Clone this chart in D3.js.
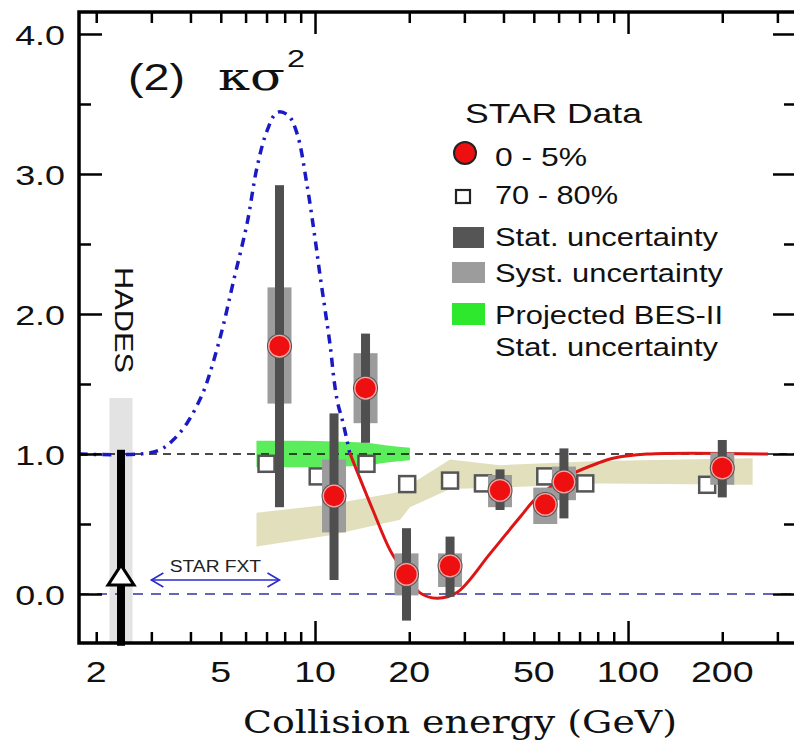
<!DOCTYPE html>
<html>
<head>
<meta charset="utf-8">
<script src="https://d3js.org/d3.v7.min.js"></script>
<style>
  body { margin: 0; background: #fff; }
  text { font-family: "Liberation Sans", Arial, sans-serif; }
</style>
</head>
<body>
<div id="chart"></div>
<script>
// STAR 0-5% central data
var energy = [7.7, 11.5, 14.5, 19.6, 27, 39, 54.4, 62.4, 200];
var kappa  = [1.77, 0.70, 1.47, 0.14, 0.20, 0.74, 0.64, 0.80, 0.90];
var statLo = [0.62, 0.10, 1.08, -0.19, -0.02, 0.60, 0.56, 0.54, 0.69];
var statHi = [2.92, 1.29, 1.86, 0.47, 0.41, 0.89, 0.72, 1.04, 1.10];
var systLo = [1.36, 0.44, 1.22, -0.01, 0.05, 0.62, 0.50, 0.67, 0.78];
var systHi = [2.19, 0.96, 1.72, 0.29, 0.29, 0.85, 0.76, 0.91, 1.01];

// STAR 70-80% peripheral
var perE = [7.0, 10.2, 14.6, 19.7, 27, 34.4, 54.4, 73, 179];
var perK = [0.93, 0.84, 0.93, 0.785, 0.81, 0.79, 0.84, 0.79, 0.78];

// blue dash-dot model curve
var blueE = [1.76, 2.76, 3.2, 3.52, 3.9, 4.39, 4.72, 5.08, 5.47, 6.07, 6.53, 7.03, 7.57, 8.2, 8.76, 9.43, 10.0, 10.4, 10.8, 11.2, 11.5, 11.8, 12.3, 12.9];
var blueK = [1.0, 1.0, 1.03, 1.1, 1.22, 1.44, 1.65, 1.91, 2.22, 2.65, 3.05, 3.31, 3.44, 3.42, 3.29, 2.92, 2.54, 2.26, 2.01, 1.76, 1.53, 1.37, 1.22, 1.01];

// red model curve
var redE = [12.9, 15.3, 17.4, 19.1, 21.6, 24.5, 28.4, 36.3, 45.2, 51.2, 65.3, 81.4, 89.6, 115, 280];
var redK = [1.01, 0.60, 0.31, 0.17, 0.01, -0.03, 0.01, 0.29, 0.55, 0.69, 0.85, 0.94, 0.97, 1.0, 1.0];

// projected BES-II band (around 1.0)
var greenE = [6.5, 9, 11.5, 14.5, 17, 20.1];
var greenHalf = [0.095, 0.095, 0.09, 0.08, 0.06, 0.045];

// beige band
var beigeE  = [6.5, 11.2, 18.7, 20.1, 27, 39, 81, 250];
var beigeLo = [0.34, 0.42, 0.53, 0.62, 0.75, 0.76, 0.79, 0.78];
var beigeHi = [0.58, 0.64, 0.73, 0.78, 0.96, 0.92, 0.95, 0.97];

// HADES
var hadesE = 2.4, hadesK = 0.135, hadesHi = 1.03, hadesBand = 1.40;
var fxtRange = [3.0, 7.7];

var xMinor = [2, 3, 4, 5, 6, 7, 8, 9, 20, 30, 40, 50, 60, 70, 80, 90, 200, 300];
var xMajor = [10, 100];
var xLabels = [2, 5, 10, 20, 50, 100, 200];
var yMajor = [0, 1, 2, 3, 4];
var yMinor = [0.5, 1.5, 2.5, 3.5];

var W = 794, H = 746;
var pL = 79, pR = 796, pT = 12, pB = 643;

var svg = d3.select("#chart").append("svg").attr("width", W).attr("height", H);

var x = d3.scaleLog().domain([1.762, 344]).range([pL, pR]);
var y = d3.scaleLinear().domain([-0.35, 4.157]).range([pB, pT]);

function stretch(sel, k) {
  sel.each(function () {
    var w = this.getComputedTextLength();
    d3.select(this).attr("textLength", w * k).attr("lengthAdjust", "spacingAndGlyphs");
  });
}

// beige band
var beige = beigeE.map(function (e, i) { return [e, beigeLo[i], beigeHi[i]]; });
svg.append("path").datum(beige)
  .attr("fill", "#e2dfbd")
  .attr("d", d3.area().x(function (d) { return x(d[0]); })
    .y0(function (d) { return y(d[1]); }).y1(function (d) { return y(d[2]); }));

// green band
var green = greenE.map(function (e, i) { return [e, 1 - greenHalf[i], 1 + greenHalf[i]]; });
svg.append("path").datum(green)
  .attr("fill", "#5ced5c")
  .attr("d", d3.area().curve(d3.curveMonotoneX).x(function (d) { return x(d[0]); })
    .y0(function (d) { return y(d[1]); }).y1(function (d) { return y(d[2]); }));

// HADES grey band
svg.append("rect")
  .attr("x", x(hadesE) - 11.5).attr("width", 23)
  .attr("y", y(hadesBand)).attr("height", y(-0.35) - y(hadesBand))
  .attr("fill", "#e3e3e3");

// reference lines
svg.append("line").attr("x1", pL).attr("x2", pR).attr("y1", y(1)).attr("y2", y(1))
  .attr("stroke", "#111").attr("stroke-width", 1.6).attr("stroke-dasharray", "8,6");
svg.append("line").attr("x1", pL).attr("x2", pR).attr("y1", y(0)).attr("y2", y(0))
  .attr("stroke", "#34349c").attr("stroke-width", 1.6).attr("stroke-dasharray", "10,8");

// blue model
svg.append("path").datum(blueE.map(function (e, i) { return [e, blueK[i]]; }))
  .attr("fill", "none").attr("stroke", "#1a1ac4").attr("stroke-width", 3.5)
  .attr("stroke-dasharray", "9,6,2.5,6")
  .attr("d", d3.line().curve(d3.curveCatmullRom).x(function (d) { return x(d[0]); }).y(function (d) { return y(d[1]); }));

// red model
svg.append("path").datum(redE.map(function (e, i) { return [e, redK[i]]; }))
  .attr("fill", "none").attr("stroke", "#dd1515").attr("stroke-width", 3)
  .attr("d", d3.line().curve(d3.curveCatmullRom).x(function (d) { return x(d[0]); }).y(function (d) { return y(d[1]); }));

// HADES bar + triangle
svg.append("rect")
  .attr("x", x(hadesE) - 4).attr("width", 8)
  .attr("y", y(hadesHi)).attr("height", y(-0.37) - y(hadesHi))
  .attr("fill", "#000");
svg.append("path")
  .attr("transform", "translate(" + x(hadesE) + "," + y(hadesK) + ")")
  .attr("d", "M0,-10L13,10L-13,10Z")
  .attr("fill", "#fff").attr("stroke", "#000").attr("stroke-width", 3);

// STAR FXT arrow
var fy = y(0.1);
svg.append("line").attr("x1", x(fxtRange[0])).attr("x2", x(fxtRange[1])).attr("y1", fy).attr("y2", fy)
  .attr("stroke", "#2a2ad0").attr("stroke-width", 1.6);
svg.append("path")
  .attr("d", "M" + (x(fxtRange[0]) + 12) + "," + (fy - 7) + "L" + x(fxtRange[0]) + "," + fy + "L" + (x(fxtRange[0]) + 12) + "," + (fy + 7) +
    "M" + (x(fxtRange[1]) - 12) + "," + (fy - 7) + "L" + x(fxtRange[1]) + "," + fy + "L" + (x(fxtRange[1]) - 12) + "," + (fy + 7))
  .attr("fill", "none").attr("stroke", "#2a2ad0").attr("stroke-width", 1.6);
svg.append("text").attr("x", (x(fxtRange[0]) + x(fxtRange[1])) / 2).attr("y", fy - 8)
  .attr("text-anchor", "middle").attr("font-size", 16).attr("fill", "#222")
  .text("STAR FXT").call(stretch, 1.2);

// peripheral squares
svg.selectAll(".per").data(perE).enter().append("rect")
  .attr("x", function (d) { return x(d) - 8; })
  .attr("y", function (d, i) { return y(perK[i]) - 8; })
  .attr("width", 16).attr("height", 16)
  .attr("fill", "#fff").attr("stroke", "#555").attr("stroke-width", 2.5);

// systematic boxes
svg.selectAll(".syst").data(energy).enter().append("rect")
  .attr("x", function (d) { return x(d) - 12; }).attr("width", 24)
  .attr("y", function (d, i) { return y(systHi[i]); })
  .attr("height", function (d, i) { return y(systLo[i]) - y(systHi[i]); })
  .attr("fill", "#9c9c9c");

// statistical bars
svg.selectAll(".stat").data(energy).enter().append("rect")
  .attr("x", function (d) { return x(d) - 4.5; }).attr("width", 9)
  .attr("y", function (d, i) { return y(statHi[i]); })
  .attr("height", function (d, i) { return y(statLo[i]) - y(statHi[i]); })
  .attr("fill", "#4f4f4f");

// central points
svg.selectAll(".pt").data(energy).enter().append("circle")
  .attr("cx", function (d) { return x(d); }).attr("cy", function (d, i) { return y(kappa[i]); })
  .attr("r", 12.5).attr("fill", "#555");
svg.selectAll(".pt2").data(energy).enter().append("circle")
  .attr("cx", function (d) { return x(d); }).attr("cy", function (d, i) { return y(kappa[i]); })
  .attr("r", 10.8).attr("fill", "#ee1010").attr("stroke", "#f7a5a5").attr("stroke-width", 1.3);

// axes
function styleAxis(g) {
  g.select(".domain").remove();
  g.selectAll("line").attr("stroke", "#000").attr("stroke-width", 2.5);
}
var axes = svg.append("g");
axes.append("g").attr("transform", "translate(0," + pB + ")")
  .call(d3.axisBottom(x).tickValues(xMinor).tickSize(-11).tickFormat("")).call(styleAxis);
axes.append("g").attr("transform", "translate(0," + pB + ")")
  .call(d3.axisBottom(x).tickValues(xMajor).tickSize(-22).tickFormat("")).call(styleAxis);
axes.append("g").attr("transform", "translate(0," + pT + ")")
  .call(d3.axisTop(x).tickValues(xMinor).tickSize(-11).tickFormat("")).call(styleAxis);
axes.append("g").attr("transform", "translate(0," + pT + ")")
  .call(d3.axisTop(x).tickValues(xMajor).tickSize(-22).tickFormat("")).call(styleAxis);
axes.append("g").attr("transform", "translate(" + pL + ",0)")
  .call(d3.axisLeft(y).tickValues(yMajor).tickSize(-23).tickFormat("")).call(styleAxis);
axes.append("g").attr("transform", "translate(" + pL + ",0)")
  .call(d3.axisLeft(y).tickValues(yMinor).tickSize(-12).tickFormat("")).call(styleAxis);
axes.append("g").attr("transform", "translate(" + pR + ",0)")
  .call(d3.axisRight(y).tickValues(yMajor).tickSize(-23).tickFormat("")).call(styleAxis);
axes.append("g").attr("transform", "translate(" + pR + ",0)")
  .call(d3.axisRight(y).tickValues(yMinor).tickSize(-12).tickFormat("")).call(styleAxis);

svg.append("path")
  .attr("d", "M" + pR + "," + pT + "H" + pL + "V" + pB + "H" + pR)
  .attr("fill", "none").attr("stroke", "#000").attr("stroke-width", 3.5);

// tick labels
svg.selectAll(".xl").data(xLabels).enter().append("text")
  .attr("x", function (d) { return x(d); }).attr("y", 682)
  .attr("text-anchor", "middle").attr("font-size", 30).attr("fill", "#111")
  .text(function (d) { return d; }).call(stretch, 1.25);
svg.selectAll(".yl").data(yMajor).enter().append("text")
  .attr("x", 65).attr("y", function (d) { return y(d) + 11; })
  .attr("text-anchor", "end").attr("font-size", 28).attr("fill", "#111")
  .text(function (d) { return d.toFixed(1); }).call(stretch, 1.28);

// axis title
svg.append("text").attr("x", 243).attr("y", 733)
  .style("font-family", "'DejaVu Serif', serif")
  .attr("font-size", 32).attr("fill", "#111")
  .attr("textLength", 434).attr("lengthAdjust", "spacingAndGlyphs")
  .text("Collision energy (GeV)");

// panel title
var t = svg.append("g").attr("fill", "#111");
t.append("text").attr("x", 128).attr("y", 90).attr("font-size", 37)
  .attr("textLength", 57).attr("lengthAdjust", "spacingAndGlyphs").text("(2)");
t.append("text").attr("x", 218).attr("y", 90).attr("font-size", 40)
  .style("font-family", "'DejaVu Serif', serif")
  .attr("textLength", 67).attr("lengthAdjust", "spacingAndGlyphs").text("κσ");
t.append("text").attr("x", 287).attr("y", 67).attr("font-size", 24)
  .attr("textLength", 18).attr("lengthAdjust", "spacingAndGlyphs").text("2");

// HADES label
svg.append("text").attr("transform", "translate(115,267) rotate(90)")
  .attr("font-size", 25).attr("fill", "#111")
  .attr("textLength", 106).attr("lengthAdjust", "spacingAndGlyphs").text("HADES");

// legend
var lg = svg.append("g").attr("fill", "#111");
lg.append("text").attr("x", 465).attr("y", 123).attr("font-size", 28)
  .attr("textLength", 177).attr("lengthAdjust", "spacingAndGlyphs").text("STAR Data");
lg.append("circle").attr("cx", 465).attr("cy", 153).attr("r", 11).attr("fill", "#ee1010")
  .attr("stroke", "#222").attr("stroke-width", 2);
lg.append("rect").attr("x", 456).attr("y", 190).attr("width", 14).attr("height", 13)
  .attr("fill", "#fff").attr("stroke", "#222").attr("stroke-width", 2.2);
lg.append("rect").attr("x", 453).attr("y", 227).attr("width", 31).attr("height", 21).attr("fill", "#555");
lg.append("rect").attr("x", 452).attr("y", 262).attr("width", 33).attr("height", 21).attr("fill", "#9c9c9c");
lg.append("rect").attr("x", 452).attr("y", 303).attr("width", 33).attr("height", 22).attr("fill", "#2ee82e");

var legendText = [
  ["0 - 5%", 166, 92],
  ["70 - 80%", 204, 123],
  ["Stat. uncertainty", 246, 223],
  ["Syst. uncertainty", 282, 228],
  ["Projected BES-II", 324, 228],
  ["Stat. uncertainty", 356, 223]
];
lg.selectAll(".lt").data(legendText).enter().append("text")
  .attr("x", 495).attr("y", function (d) { return d[1]; })
  .attr("font-size", 25)
  .attr("textLength", function (d) { return d[2]; }).attr("lengthAdjust", "spacingAndGlyphs")
  .text(function (d) { return d[0]; });
</script>
</body>
</html>
